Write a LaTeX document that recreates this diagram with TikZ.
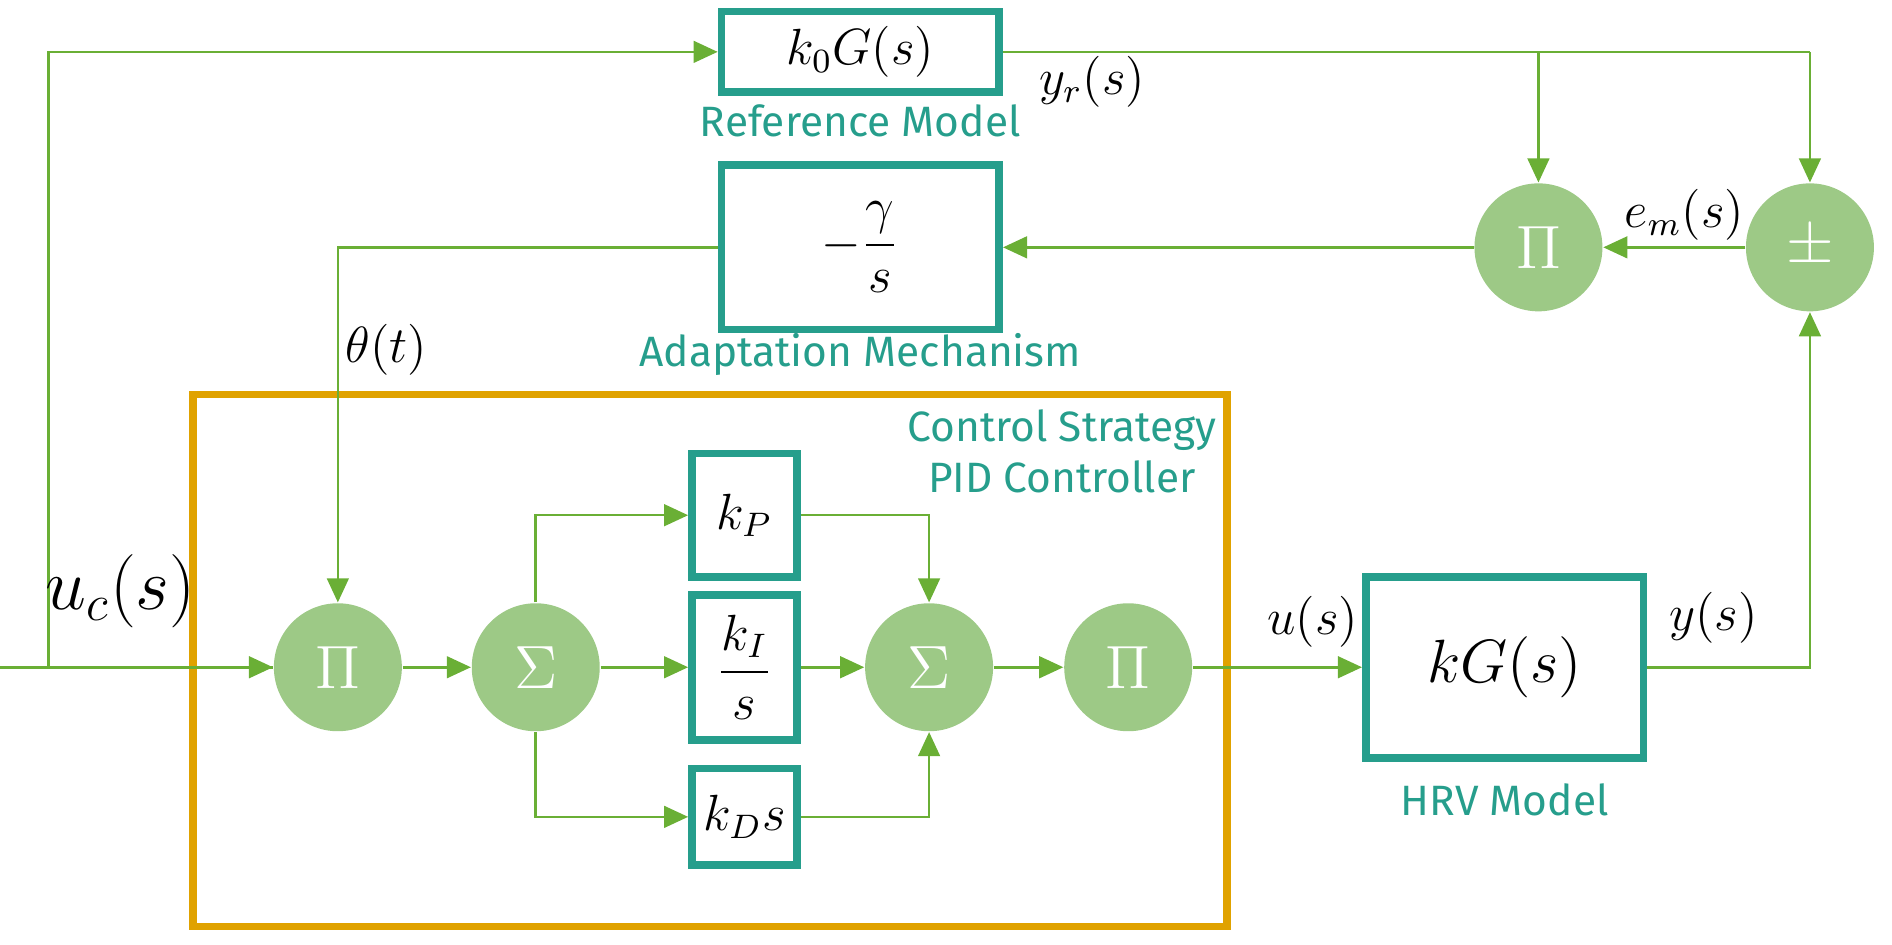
\documentclass[tikz,border=0pt]{standalone}
\usepackage{amsmath}
\usepackage{fontspec}
\newfontfamily\lab{Fira Sans}
\usetikzlibrary{arrows.meta}
\definecolor{teal}{RGB}{38,158,140}
\definecolor{lgreen}{RGB}{157,201,134}
\definecolor{lnk}{RGB}{106,175,53}
\definecolor{org}{RGB}{224,162,0}
\begin{document}
\begin{tikzpicture}[x=0.01cm,y=-0.01cm,
 blk/.style={draw=teal,line width=1.8pt,fill=white,inner sep=0pt},
 op/.style={circle,fill=lgreen,minimum size=1.06cm,inner sep=0pt,text=white,font=\Large},
 lbl/.style={text=teal,font=\lab\fontsize{10}{12}\selectfont},
 wire/.style={draw=lnk,line width=0.6pt},
 arr/.style={wire,-{Triangle[length=0.2cm,width=0.18cm]}}]
\useasboundingbox (0,0) rectangle (1568,783);
\draw[org,line width=1.8pt] (160,327) rectangle (1017,768);
\node[blk,minimum width=2.3cm,minimum height=0.67cm] (ref) at (713,43) {\large $k_0G(s)$};
\node[lbl] (reflbl) at (713,100) {Reference Model};
\node[blk,minimum width=2.3cm,minimum height=1.36cm] (ad) at (713,205) {\large $-\dfrac{\gamma}{s}$};
\node[lbl] (adlbl) at (713,294) {Adaptation Mechanism};
\node[op] (pt) at (1275,205) {$\Pi$};
\node[op] (pm) at (1500,205) {$\pm$};
\node[op] (p1) at (280,553) {$\Pi$};
\node[op] (s1) at (444,553) {$\Sigma$};
\node[op] (s2) at (770,553) {$\Sigma$};
\node[op] (p2) at (935,553) {$\Pi$};
\node[blk,minimum width=0.87cm,minimum height=1.02cm] (kp) at (617,427) {\large $k_P$};
\node[blk,minimum width=0.87cm,minimum height=1.2cm] (ki) at (617,553) {\large $\dfrac{k_I}{s}$};
\node[blk,minimum width=0.87cm,minimum height=0.8cm] (kd) at (617,677) {\large $k_D s$};
\node[blk,minimum width=2.3cm,minimum height=1.5cm] (hrv) at (1247,553) {\Large $kG(s)$};
\node[lbl] (hrvlbl) at (1247,663) {HRV Model};
\node[lbl,align=center] (pid) at (880,374) {Control Strategy\\PID Controller};
\coordinate (in) at (0,553);
\coordinate (br) at (40,553);
\coordinate (ytop) at (1500,43);
\draw[wire] (in) -- (p1.west);
\draw[arr] (br) -- (p1.west);
\draw[arr] (br) |- (ref.west);
\draw[wire] (ref.east) -- (ytop);
\draw[arr] (ytop) -- (pm.north);
\draw[arr] (pt.north|-ref.east) -- (pt.north);
\draw[arr] (pm.west) -- (pt.east);
\draw[arr] (pt.west) -- (ad.east);
\draw[arr] (ad.west) -| (p1.north);
\draw[arr] (p1) -- (s1);
\draw[arr] (s1.north) |- (kp.west);
\draw[arr] (s1) -- (ki);
\draw[arr] (s1.south) |- (kd.west);
\draw[arr] (kp.east) -| (s2.north);
\draw[arr] (kd.east) -| (s2.south);
\draw[arr] (ki) -- (s2);
\draw[arr] (s2) -- (p2);
\draw[arr] (p2) -- (hrv);
\draw[arr] (hrv.east) -| (pm.south);
\node (yr) at (905,68) {\large $y_r(s)$};
\node (em) at (1396,178) {\large $e_m(s)$};
\node (th) at (320,290) {\large $\theta(t)$};
\node (uc) at (100,490) {\LARGE $u_c(s)$};
\node (us) at (1088,515) {\large $u(s)$};
\node (ys) at (1420,512) {\large $y(s)$};
\end{tikzpicture}
\end{document}
